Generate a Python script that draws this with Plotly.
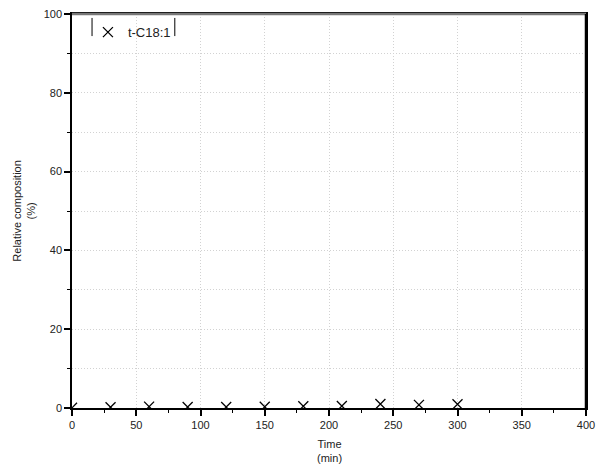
import plotly.graph_objects as go

time_min = [0, 30, 60, 90, 120, 150, 180, 210, 240, 270, 300]
t_c18_1 = [0.05, 0.2, 0.35, 0.25, 0.25, 0.3, 0.45, 0.5, 1.0, 0.8, 0.95]
x_ticks = [0, 50, 100, 150, 200, 250, 300, 350, 400]
y_ticks = [0, 20, 40, 60, 80, 100]

fig = go.Figure()
fig.add_trace(go.Scatter(
    x=time_min, y=t_c18_1, mode="markers", name="t-C18:1",
    marker=dict(symbol="x-thin", size=10, line=dict(color="black", width=1.3), color="black"),
    cliponaxis=True,
))

grid_col = "#d2d2d2"
grid_dash = "1px,2px"
axis_font = dict(family="Liberation Sans, Arial", size=11, color="#222")
fig.update_layout(
    width=598, height=468,
    margin=dict(l=72, r=12, t=14, b=60, autoexpand=False),
    paper_bgcolor="white", plot_bgcolor="white",
    font=axis_font,
    showlegend=True,
    legend=dict(x=0.031, y=0.992, xanchor="left", yanchor="top",
                bgcolor="rgba(0,0,0,0)", borderwidth=0,
                font=dict(family="Liberation Sans, Arial", size=13, color="#222"),
                itemwidth=30),
    xaxis=dict(
        range=[0, 400], tickvals=x_ticks, ticktext=[str(v) for v in x_ticks],
        showline=True, linecolor="black", linewidth=1.5, mirror=True,
        ticks="outside", ticklen=6, tickwidth=1.5, tickcolor="black",
        showgrid=True, gridcolor=grid_col, griddash=grid_dash, gridwidth=1,
        minor=dict(dtick=25, tick0=0, ticks="outside", ticklen=3, tickwidth=1, tickcolor="black", showgrid=False),
        zeroline=False, automargin=False, ticklabeloverflow="allow",
    ),
    yaxis=dict(
        range=[0, 100], tickvals=y_ticks, ticktext=[str(v) for v in y_ticks],
        showline=True, linecolor="black", linewidth=1.5, mirror=True,
        ticks="outside", ticklen=6, tickwidth=1.5, tickcolor="black",
        showgrid=True, gridcolor=grid_col, griddash=grid_dash, gridwidth=1,
        minor=dict(dtick=10, tick0=0, ticks="outside", ticklen=3, tickwidth=1, tickcolor="black",
                   showgrid=True, gridcolor=grid_col, griddash=grid_dash, gridwidth=1),
        zeroline=False, automargin=False, ticklabeloverflow="allow",
    ),
    annotations=[
        dict(text="Time<br>(min)", xref="paper", yref="paper", x=0.5, y=-0.072,
             xanchor="center", yanchor="top", showarrow=False,
             font=dict(family="Liberation Sans, Arial", size=11, color="#222")),
        dict(text="Relative composition<br>(%)", xref="paper", yref="paper", x=-0.094, y=0.5,
             xanchor="center", yanchor="middle", showarrow=False, textangle=-90,
             font=dict(family="Liberation Sans, Arial", size=11, color="#222")),
    ],
    shapes=[
        dict(type="line", xref="paper", yref="paper", x0=0, x1=1, y0=1, y1=1,
             line=dict(color="#777", width=2.5)),
        dict(type="line", xref="paper", yref="paper", x0=1, x1=1, y0=0, y1=1,
             line=dict(color="black", width=2.5)),
        dict(type="line", xref="paper", yref="paper", x0=0.039, x1=0.039, y0=0.944, y1=0.99,
             line=dict(color="black", width=1)),
        dict(type="line", xref="paper", yref="paper", x0=0.2, x1=0.2, y0=0.944, y1=0.99,
             line=dict(color="black", width=1)),
    ],
)

fig.write_html(
    "out.html",
    config={"displayModeBar": False},
    post_script="document.body.style.margin='0';document.body.style.overflow='hidden';",
)
